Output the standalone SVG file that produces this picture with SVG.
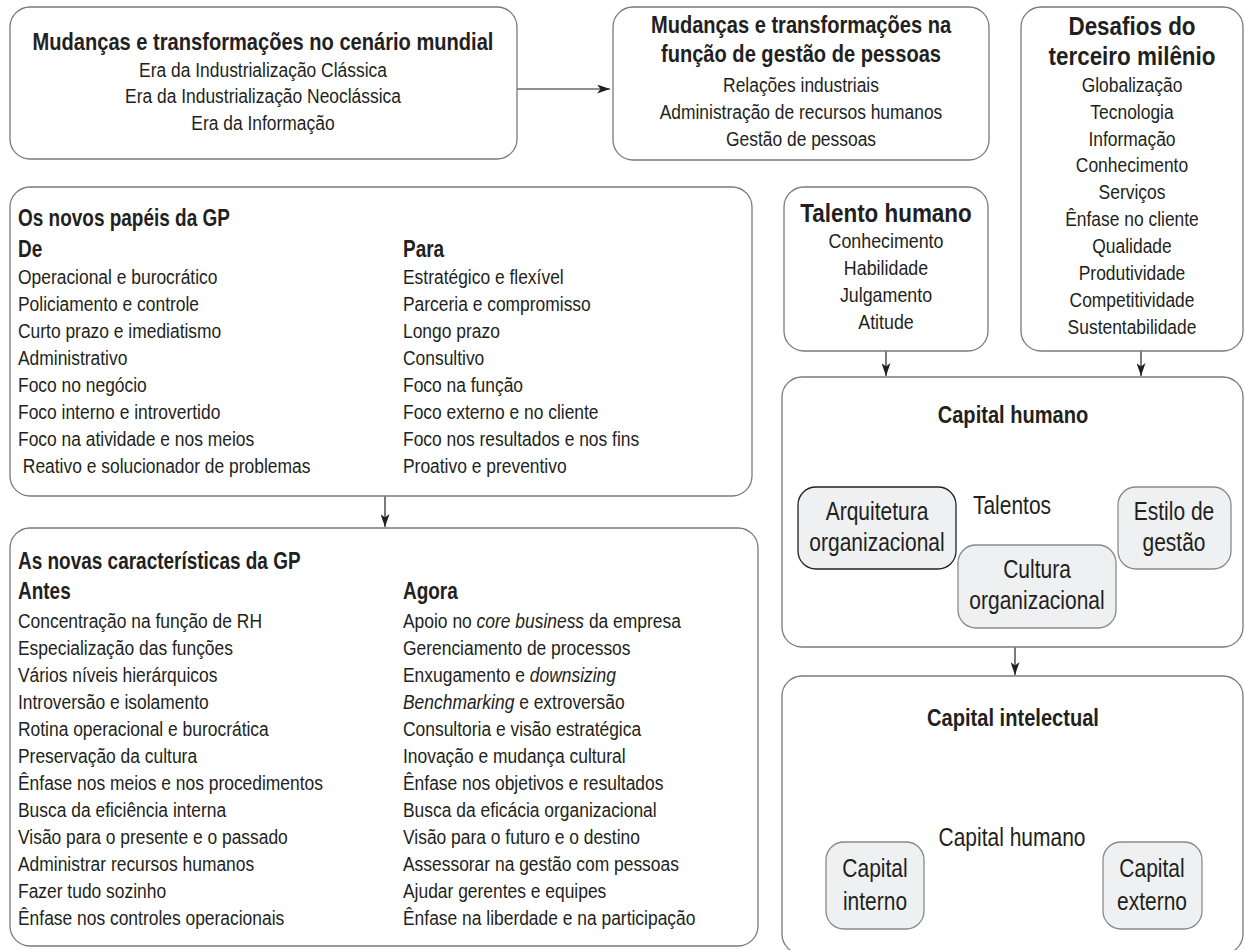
<svg xmlns="http://www.w3.org/2000/svg" width="1245" height="950" viewBox="0 0 1245 950">
  <style>
    .box { fill: #ffffff; stroke: #7a7a7a; stroke-width: 1.3; }
    .inner { fill: #eff0f2; stroke: #8a8a8a; stroke-width: 1.3; }
    .dark { stroke: #222222; }
    .t { font-family: "Liberation Sans", "DejaVu Sans", sans-serif; font-size: 21px; fill: #231f20; }
    .h { font-size: 24.5px; font-weight: bold; }
    .H { font-size: 25.5px; font-weight: bold; }
    .s { font-size: 23px; font-weight: bold; }
    .L { font-size: 25px; }
    .c { text-anchor: middle; }
    .i { font-style: italic; }
    .wire { stroke: #231f20; stroke-width: 1.2; fill: none; marker-end: url(#arrow); }
  </style>
  <defs>
    <marker id="arrow" viewBox="0 0 13 9" refX="13" refY="4.5" markerWidth="13" markerHeight="9" markerUnits="userSpaceOnUse" orient="auto">
      <path d="M0,0 L13,4.5 L0,9 L3.5,4.5 z" fill="#231f20"/>
    </marker>
  </defs>

  <!-- connectors -->
  <g id="connectors">
    <line class="wire" x1="517" y1="89" x2="610" y2="89"/>
    <line class="wire" x1="886" y1="351" x2="886" y2="376"/>
    <line class="wire" x1="1141" y1="351" x2="1141" y2="376"/>
    <line class="wire" x1="1015" y1="647" x2="1015" y2="675"/>
    <line class="wire" x1="385" y1="496" x2="385" y2="527"/>
    <line class="wire" x1="47" y1="252" x2="398" y2="252"/>
    <line class="wire" x1="84" y1="592" x2="398" y2="592"/>
  </g>

  <g id="cenario-mundial">
    <rect class="box" x="10" y="7" width="507" height="152" rx="20"/>
    <text class="t h c" transform="matrix(0.82 0 0 1 263 50)">Mudanças e transformações no cenário mundial</text>
    <text class="t c" transform="matrix(0.83 0 0 1 263 77)">Era da Industrialização Clássica</text>
    <text class="t c" transform="matrix(0.83 0 0 1 263 103)">Era da Industrialização Neoclássica</text>
    <text class="t c" transform="matrix(0.83 0 0 1 263 130)">Era da Informação</text>
  </g>

  <g id="funcao-gestao">
    <rect class="box" x="613" y="7" width="376" height="153" rx="20"/>
    <text class="t h c" transform="matrix(0.82 0 0 1 801 33)">Mudanças e transformações na</text>
    <text class="t h c" transform="matrix(0.82 0 0 1 801 62)">função de gestão de pessoas</text>
    <text class="t c" transform="matrix(0.83 0 0 1 801 92)">Relações industriais</text>
    <text class="t c" transform="matrix(0.83 0 0 1 801 119)">Administração de recursos humanos</text>
    <text class="t c" transform="matrix(0.83 0 0 1 801 146)">Gestão de pessoas</text>
  </g>

  <g id="desafios">
    <rect class="box" x="1021" y="7" width="222" height="344" rx="20"/>
    <text class="t H c" transform="matrix(0.88 0 0 1 1132 35)">Desafios do</text>
    <text class="t H c" transform="matrix(0.88 0 0 1 1132 65)">terceiro milênio</text>
    <text class="t c" transform="matrix(0.83 0 0 1 1132 92)">Globalização</text>
    <text class="t c" transform="matrix(0.83 0 0 1 1132 119)">Tecnologia</text>
    <text class="t c" transform="matrix(0.83 0 0 1 1132 146)">Informação</text>
    <text class="t c" transform="matrix(0.83 0 0 1 1132 172)">Conhecimento</text>
    <text class="t c" transform="matrix(0.83 0 0 1 1132 199)">Serviços</text>
    <text class="t c" transform="matrix(0.83 0 0 1 1132 226)">Ênfase no cliente</text>
    <text class="t c" transform="matrix(0.83 0 0 1 1132 253)">Qualidade</text>
    <text class="t c" transform="matrix(0.83 0 0 1 1132 280)">Produtividade</text>
    <text class="t c" transform="matrix(0.83 0 0 1 1132 307)">Competitividade</text>
    <text class="t c" transform="matrix(0.83 0 0 1 1132 334)">Sustentabilidade</text>
  </g>

  <g id="talento-humano">
    <rect class="box" x="784" y="187" width="204" height="164" rx="20"/>
    <text class="t H c" transform="matrix(0.88 0 0 1 886 222)">Talento humano</text>
    <text class="t c" transform="matrix(0.85 0 0 1 886 248)">Conhecimento</text>
    <text class="t c" transform="matrix(0.85 0 0 1 886 275)">Habilidade</text>
    <text class="t c" transform="matrix(0.85 0 0 1 886 302)">Julgamento</text>
    <text class="t c" transform="matrix(0.85 0 0 1 886 329)">Atitude</text>
  </g>

  <g id="novos-papeis">
    <rect class="box" x="10" y="187" width="742" height="309" rx="20"/>
    <text class="t s" transform="matrix(0.825 0 0 1 18 226)">Os novos papéis da GP</text>
    <text class="t s" transform="matrix(0.825 0 0 1 18 257)">De</text>
    <text class="t" transform="matrix(0.83 0 0 1 18 284)">Operacional e burocrático</text>
    <text class="t" transform="matrix(0.83 0 0 1 18 311)">Policiamento e controle</text>
    <text class="t" transform="matrix(0.83 0 0 1 18 338)">Curto prazo e imediatismo</text>
    <text class="t" transform="matrix(0.83 0 0 1 18 365)">Administrativo</text>
    <text class="t" transform="matrix(0.83 0 0 1 18 392)">Foco no negócio</text>
    <text class="t" transform="matrix(0.83 0 0 1 18 419)">Foco interno e introvertido</text>
    <text class="t" transform="matrix(0.83 0 0 1 18 446)">Foco na atividade e nos meios</text>
    <text class="t" transform="matrix(0.83 0 0 1 18 473)" xml:space="preserve"> Reativo e solucionador de problemas</text>
    <text class="t s" transform="matrix(0.825 0 0 1 403 257)">Para</text>
    <text class="t" transform="matrix(0.83 0 0 1 403 284)">Estratégico e flexível</text>
    <text class="t" transform="matrix(0.83 0 0 1 403 311)">Parceria e compromisso</text>
    <text class="t" transform="matrix(0.83 0 0 1 403 338)">Longo prazo</text>
    <text class="t" transform="matrix(0.83 0 0 1 403 365)">Consultivo</text>
    <text class="t" transform="matrix(0.83 0 0 1 403 392)">Foco na função</text>
    <text class="t" transform="matrix(0.83 0 0 1 403 419)">Foco externo e no cliente</text>
    <text class="t" transform="matrix(0.83 0 0 1 403 446)">Foco nos resultados e nos fins</text>
    <text class="t" transform="matrix(0.83 0 0 1 403 473)">Proativo e preventivo</text>
  </g>

  <g id="novas-caracteristicas">
    <rect class="box" x="10" y="528" width="748" height="418" rx="20"/>
    <text class="t s" transform="matrix(0.825 0 0 1 18 569)">As novas características da GP</text>
    <text class="t s" transform="matrix(0.825 0 0 1 18 599)">Antes</text>
    <text class="t" transform="matrix(0.83 0 0 1 18 628)">Concentração na função de RH</text>
    <text class="t" transform="matrix(0.83 0 0 1 18 655)">Especialização das funções</text>
    <text class="t" transform="matrix(0.83 0 0 1 18 682)">Vários níveis hierárquicos</text>
    <text class="t" transform="matrix(0.83 0 0 1 18 709)">Introversão e isolamento</text>
    <text class="t" transform="matrix(0.83 0 0 1 18 736)">Rotina operacional e burocrática</text>
    <text class="t" transform="matrix(0.83 0 0 1 18 763)">Preservação da cultura</text>
    <text class="t" transform="matrix(0.83 0 0 1 18 790)">Ênfase nos meios e nos procedimentos</text>
    <text class="t" transform="matrix(0.83 0 0 1 18 817)">Busca da eficiência interna</text>
    <text class="t" transform="matrix(0.83 0 0 1 18 844)">Visão para o presente e o passado</text>
    <text class="t" transform="matrix(0.83 0 0 1 18 871)">Administrar recursos humanos</text>
    <text class="t" transform="matrix(0.83 0 0 1 18 898)">Fazer tudo sozinho</text>
    <text class="t" transform="matrix(0.83 0 0 1 18 925)">Ênfase nos controles operacionais</text>
    <text class="t s" transform="matrix(0.825 0 0 1 403 599)">Agora</text>
    <text class="t" transform="matrix(0.83 0 0 1 403 628)">Apoio no <tspan class="i">core business</tspan> da empresa</text>
    <text class="t" transform="matrix(0.83 0 0 1 403 655)">Gerenciamento de processos</text>
    <text class="t" transform="matrix(0.83 0 0 1 403 682)">Enxugamento e <tspan class="i">downsizing</tspan></text>
    <text class="t" transform="matrix(0.83 0 0 1 403 709)"><tspan class="i">Benchmarking</tspan> e extroversão</text>
    <text class="t" transform="matrix(0.83 0 0 1 403 736)">Consultoria e visão estratégica</text>
    <text class="t" transform="matrix(0.83 0 0 1 403 763)">Inovação e mudança cultural</text>
    <text class="t" transform="matrix(0.83 0 0 1 403 790)">Ênfase nos objetivos e resultados</text>
    <text class="t" transform="matrix(0.83 0 0 1 403 817)">Busca da eficácia organizacional</text>
    <text class="t" transform="matrix(0.83 0 0 1 403 844)">Visão para o futuro e o destino</text>
    <text class="t" transform="matrix(0.83 0 0 1 403 871)">Assessorar na gestão com pessoas</text>
    <text class="t" transform="matrix(0.83 0 0 1 403 898)">Ajudar gerentes e equipes</text>
    <text class="t" transform="matrix(0.83 0 0 1 403 925)">Ênfase na liberdade e na participação</text>
  </g>

  <g id="capital-humano">
    <rect class="box" x="782" y="377" width="461" height="270" rx="20"/>
    <text class="t h c" transform="matrix(0.82 0 0 1 1013 423)">Capital humano</text>
    <text class="t L c" transform="matrix(0.84 0 0 1 1012 514)">Talentos</text>
  </g>

  <g id="arquitetura-organizacional">
    <rect class="inner dark" x="798" y="487" width="158" height="82" rx="18"/>
    <text class="t L c" transform="matrix(0.84 0 0 1 877 520)">Arquitetura</text>
    <text class="t L c" transform="matrix(0.84 0 0 1 877 551)">organizacional</text>
  </g>

  <g id="cultura-organizacional">
    <rect class="inner" x="958" y="545" width="158" height="83" rx="18"/>
    <text class="t L c" transform="matrix(0.84 0 0 1 1037 578)">Cultura</text>
    <text class="t L c" transform="matrix(0.84 0 0 1 1037 609)">organizacional</text>
  </g>

  <g id="estilo-gestao">
    <rect class="inner" x="1118" y="487" width="113" height="82" rx="18"/>
    <text class="t L c" transform="matrix(0.84 0 0 1 1174 520)">Estilo de</text>
    <text class="t L c" transform="matrix(0.84 0 0 1 1174 551)">gestão</text>
  </g>

  <g id="capital-intelectual">
    <rect class="box" x="782" y="676" width="461" height="278" rx="20"/>
    <text class="t h c" transform="matrix(0.82 0 0 1 1013 726)">Capital intelectual</text>
    <text class="t L c" transform="matrix(0.84 0 0 1 1012 846)">Capital humano</text>
  </g>

  <g id="capital-interno">
    <rect class="inner" x="826" y="842" width="98" height="87" rx="18"/>
    <text class="t L c" transform="matrix(0.84 0 0 1 875 877)">Capital</text>
    <text class="t L c" transform="matrix(0.84 0 0 1 875 910)">interno</text>
  </g>

  <g id="capital-externo">
    <rect class="inner" x="1103" y="842" width="99" height="87" rx="18"/>
    <text class="t L c" transform="matrix(0.84 0 0 1 1152 877)">Capital</text>
    <text class="t L c" transform="matrix(0.84 0 0 1 1152 910)">externo</text>
  </g>
</svg>
